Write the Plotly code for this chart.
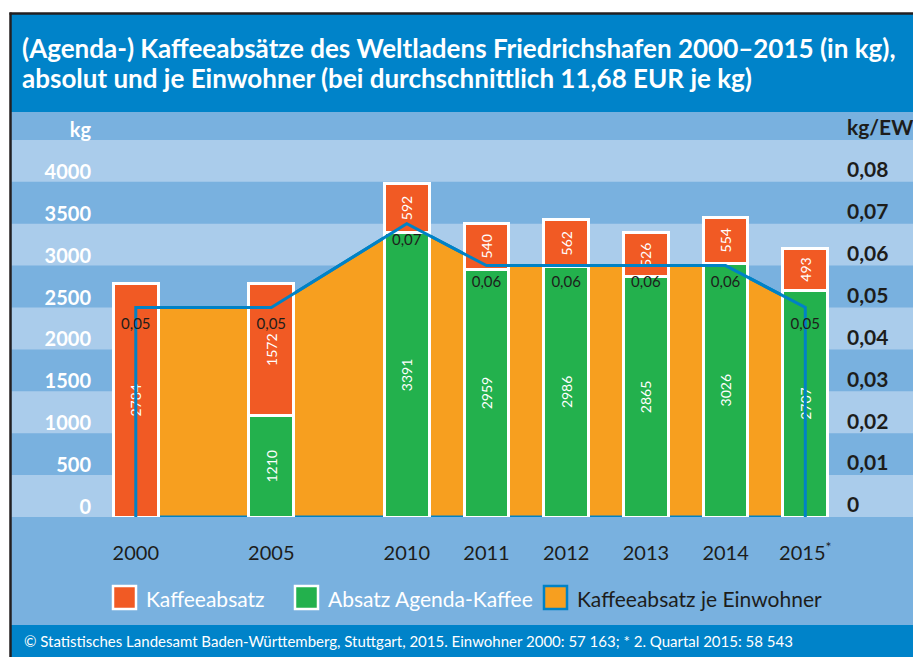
import plotly.graph_objects as go

# Daten
jahre = [2000, 2005, 2010, 2011, 2012, 2013, 2014, 2015]
jahr_labels = ["2000", "2005", "2010", "2011", "2012", "2013", "2014", "2015<sup>*</sup>"]
agenda_kaffee = [None, 1210, 3391, 2959, 2986, 2865, 3026, 2707]
kaffee_sonst = [2784, 1572, 592, 540, 562, 526, 554, 493]
je_einwohner = [0.05, 0.05, 0.07, 0.06, 0.06, 0.06, 0.06, 0.05]
kg_ticks = [0, 500, 1000, 1500, 2000, 2500, 3000, 3500, 4000]
ew_ticks = [0, 0.01, 0.02, 0.03, 0.04, 0.05, 0.06, 0.07, 0.08]
serien = ["Kaffeeabsatz", "Absatz Agenda-Kaffee", "Kaffeeabsatz je Einwohner"]

titel_zeilen = ["(Agenda-) Kaffeeabsätze des Weltladens Friedrichshafen 2000–2015 (in kg),",
                "absolut und je Einwohner (bei durchschnittlich 11,68 EUR je kg)"]
quelle = ("© Statistisches Landesamt Baden-Württemberg, Stuttgart, 2015. "
          "Einwohner 2000: 57 163; * 2. Quartal 2015: 58 543")

# Farben
BLAU = "#0083C9"
DUNKEL = "#79B1DF"
HELL = "#AACCEB"
ORANGE = "#F79F1F"
ROT = "#F15A24"
GRUEN = "#23B14D"
LINIE = "#0082C6"
SCHWARZ = "#1D1D1B"
FONT = "Lato"

# Pixel -> paper
W, H = 913, 657
def fx(p):
    return p / W
def fy(p):
    return 1 - p / H

BASIS, OBEN = 517, 112          # y-Pixel der Nulllinie / Oberkante
PX_500 = 41.9                   # Pixel je 500 kg
kg_max = (BASIS - OBEN) * 500 / PX_500
ew_max = kg_max / 50000          # 500 kg <-> 0,01 kg/EW

# x-Positionen: 5-Jahres-Schritte etwas breiter
xpos = [0.0]
for a, b in zip(jahre[:-1], jahre[1:]):
    xpos.append(xpos[-1] + (1.7 if b - a > 1 else 1.0))
SLOT, X0 = 79.7, 135.8
x_range = [-X0 / SLOT, (W - X0) / SLOT]

fig = go.Figure()

# Flaeche je Einwohner (unter den Balken)
fig.add_trace(go.Scatter(
    x=[xpos[0]] + xpos + [xpos[-1], xpos[0]],
    y=[0] + je_einwohner + [0, 0],
    mode="lines", fill="toself", fillcolor=ORANGE,
    line=dict(color=LINIE, width=3),
    xaxis="x", yaxis="y", hoverinfo="skip", showlegend=False))

# Balken
fig.add_trace(go.Bar(
    x=xpos, y=agenda_kaffee, name=serien[1], yaxis="y2",
    marker=dict(color=GRUEN, line=dict(color="white", width=3)),
    width=0.56,
    text=[str(v) if v else None for v in agenda_kaffee],
    textposition="inside", insidetextanchor="middle", textangle=-90,
    textfont=dict(family=FONT, size=14, color="white"),
    showlegend=False))
fig.add_trace(go.Bar(
    x=xpos, y=kaffee_sonst, name=serien[0], yaxis="y2",
    marker=dict(color=ROT, line=dict(color="white", width=3)),
    width=0.56,
    text=[str(v) for v in kaffee_sonst],
    textposition="inside", insidetextanchor="middle", textangle=-90,
    textfont=dict(family=FONT, size=14, color="white"),
    showlegend=False))

# Linie je Einwohner (ueber den Balken)
fig.add_trace(go.Scatter(
    x=[xpos[0]] + xpos + [xpos[-1]],
    y=[0] + je_einwohner + [0],
    mode="lines", line=dict(color=LINIE, width=3),
    yaxis="y3", hoverinfo="skip", showlegend=False))
fig.add_trace(go.Scatter(
    x=xpos, y=je_einwohner, mode="markers+text",
    marker=dict(size=15, opacity=0),
    text=[f"{v:.2f}".replace(".", ",") for v in je_einwohner],
    textposition="bottom center",
    textfont=dict(family=FONT, size=15, color=SCHWARZ),
    yaxis="y3", hoverinfo="skip", showlegend=False))

shapes = [
    # Hintergrund, Kopf, Fuss, Rahmen
    dict(type="rect", xref="paper", yref="paper", x0=fx(11), x1=1, y0=fy(625), y1=fy(OBEN),
         fillcolor=DUNKEL, line_width=0, layer="below"),
    dict(type="rect", xref="paper", yref="paper", x0=fx(11), x1=1, y0=fy(OBEN), y1=fy(14),
         fillcolor=BLAU, line_width=0, layer="below"),
    dict(type="rect", xref="paper", yref="paper", x0=fx(11), x1=1, y0=0, y1=fy(625),
         fillcolor=BLAU, line_width=0, layer="below"),
    dict(type="line", xref="paper", yref="paper", x0=fx(9.5), x1=1, y0=fy(13.5), y1=fy(13.5),
         line=dict(color="#231F20", width=2.5)),
    dict(type="line", xref="paper", yref="paper", x0=fx(10.5), x1=fx(10.5), y0=0, y1=fy(12.5),
         line=dict(color="#231F20", width=2.5)),
]
# helle Streifen
for lo in kg_ticks[::2]:
    shapes.append(dict(type="rect", xref="paper", yref="y2", x0=fx(11.5), x1=1,
                       y0=lo, y1=lo + 500, fillcolor=HELL, line_width=0, layer="below"))

# Legende
leg_x = [113, 295, 544]
leg_fill = [ROT, GRUEN, ORANGE]
leg_rand = ["white", "white", LINIE]
leg_farbe = ["white", "white", SCHWARZ]
annotations = []
for lx, fc, rc, tc, name in zip(leg_x, leg_fill, leg_rand, leg_farbe, serien):
    shapes.append(dict(type="rect", xref="paper", yref="paper",
                       x0=fx(lx), x1=fx(lx + 23), y0=fy(609), y1=fy(586),
                       fillcolor=fc, line=dict(color=rc, width=2.5)))
    annotations.append(dict(text=name, xref="paper", yref="paper", x=fx(lx + 31), y=fy(598),
                            xanchor="left", yanchor="middle", showarrow=False,
                            font=dict(family=FONT, size=21, color=tc)))

for i, zeile in enumerate(titel_zeilen):
    annotations.append(dict(text=zeile, xref="paper", yref="paper", x=fx(20), y=fy(48 + 30 * i),
                            xanchor="left", yanchor="middle", align="left", showarrow=False,
                            font=dict(family=FONT, size=26, color="white", weight="bold")))
annotations.append(dict(text=quelle, xref="paper", yref="paper", x=fx(22), y=fy(641),
                        xanchor="left", yanchor="middle", showarrow=False,
                        font=dict(family=FONT, size=15, color="white")))

fig.update_layout(
    width=W, height=H,
    margin=dict(l=0, r=0, t=0, b=0, autoexpand=False),
    paper_bgcolor="white", plot_bgcolor="rgba(0,0,0,0)",
    barmode="stack", showlegend=False,
    shapes=shapes, annotations=annotations,
    xaxis=dict(domain=[0, 1], range=x_range, tickvals=xpos, ticktext=jahr_labels,
               showgrid=False, zeroline=False, showline=False, ticks="",
               automargin=False, ticklabelstandoff=22,
               tickfont=dict(family=FONT, size=20, color=SCHWARZ)),
    yaxis=dict(domain=[fy(BASIS), fy(OBEN)], range=[0, ew_max], side="right",
               anchor="free", position=fx(846), automargin=False,
               tickvals=ew_ticks + [0.09],
               ticktext=[f"{t:.2f}".replace(".", ",") if t else "0" for t in ew_ticks] + ["kg/EW"],
               showgrid=False, zeroline=False, showline=False, ticks="",
               ticklabelshift=-12,
               tickfont=dict(family=FONT, size=21, color=SCHWARZ, weight="bold")),
    yaxis2=dict(overlaying="y", range=[0, kg_max], side="left",
                anchor="free", position=fx(91), automargin=False,
                tickvals=kg_ticks + [4500],
                ticktext=[str(t) for t in kg_ticks] + ["kg"],
                showgrid=False, zeroline=False, showline=False, ticks="",
                ticklabelshift=-10,
                tickfont=dict(family=FONT, size=20, color="white", weight="bold")),
    yaxis3=dict(overlaying="y", range=[0, ew_max], visible=False),
)

fig.write_html("out.html", config={"displayModeBar": False},
               post_script="document.body.style.margin='0';")
